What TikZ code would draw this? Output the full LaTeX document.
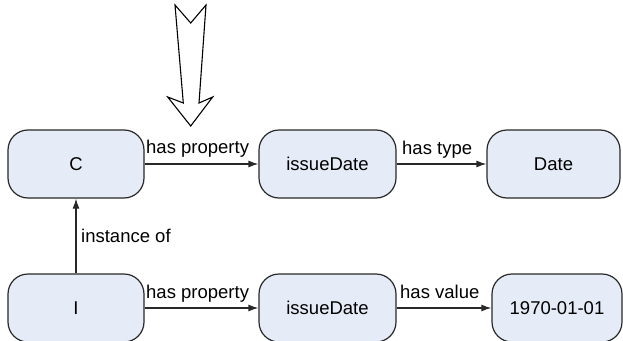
\documentclass[tikz,border=0pt]{standalone}
\usepackage{fontspec}
\setmainfont{Liberation Sans}
\usetikzlibrary{arrows.meta}
\definecolor{boxfill}{RGB}{230,236,247}
\definecolor{boxline}{RGB}{40,40,40}
\tikzset{
  entity/.style={draw=boxline, line width=1.2pt, fill=boxfill, rounded corners=20pt,
    minimum height=68pt, inner sep=0pt, font=\fontsize{18.5}{20}\selectfont},
  rel/.style={draw=boxline, line width=1.2pt, -{Latex[length=10pt,width=7pt]}},
  rellabel/.style={anchor=base west, inner sep=0pt, font=\fontsize{18.5}{20}\selectfont},
  hollow/.style={draw=black, line width=1.1pt, fill=white, line join=miter}
}
\begin{document}
\begin{tikzpicture}[x=1pt,y=-1pt]
\useasboundingbox (0,0) rectangle (623,340);
\clip (0,0) rectangle (623,340);
\fill[white] (0,0) rectangle (623,340);

% class level
\node[entity, minimum width=136pt] (c) at (76,164) {C};
\node[entity, minimum width=137pt] (prop1) at (327.5,164) {issueDate};
\node[entity, minimum width=133pt] (dtype) at (553.5,164) {Date};

% instance level
\node[entity, minimum width=136pt] (i) at (76,308) {I};
\node[entity, minimum width=137pt] (prop2) at (327.5,308) {issueDate};
\node[entity, minimum width=130pt] (val) at (557,308) {1970-01-01};

% relations
\draw[rel] (c) -- (prop1);
\draw[rel] (prop1) -- (dtype);
\draw[rel] (i) -- (prop2);
\draw[rel] (prop2) -- (val);
\draw[rel] (i) -- (c);

\node[rellabel] (l1) at (146,153) {has property};
\node[rellabel] (l2) at (402,154) {has type};
\node[rellabel] (l3) at (146,298) {has property};
\node[rellabel] (l4) at (400,298) {has value};
\node[rellabel] (l5) at (81,242) {instance of};

% pointer arrow
\draw[hollow] (175,5) -- (190.7,23) -- (206,5) -- (199,103) -- (212.7,97)
  -- (190.7,126) -- (167.7,97) -- (183.3,103) -- cycle;
\end{tikzpicture}
\end{document}
